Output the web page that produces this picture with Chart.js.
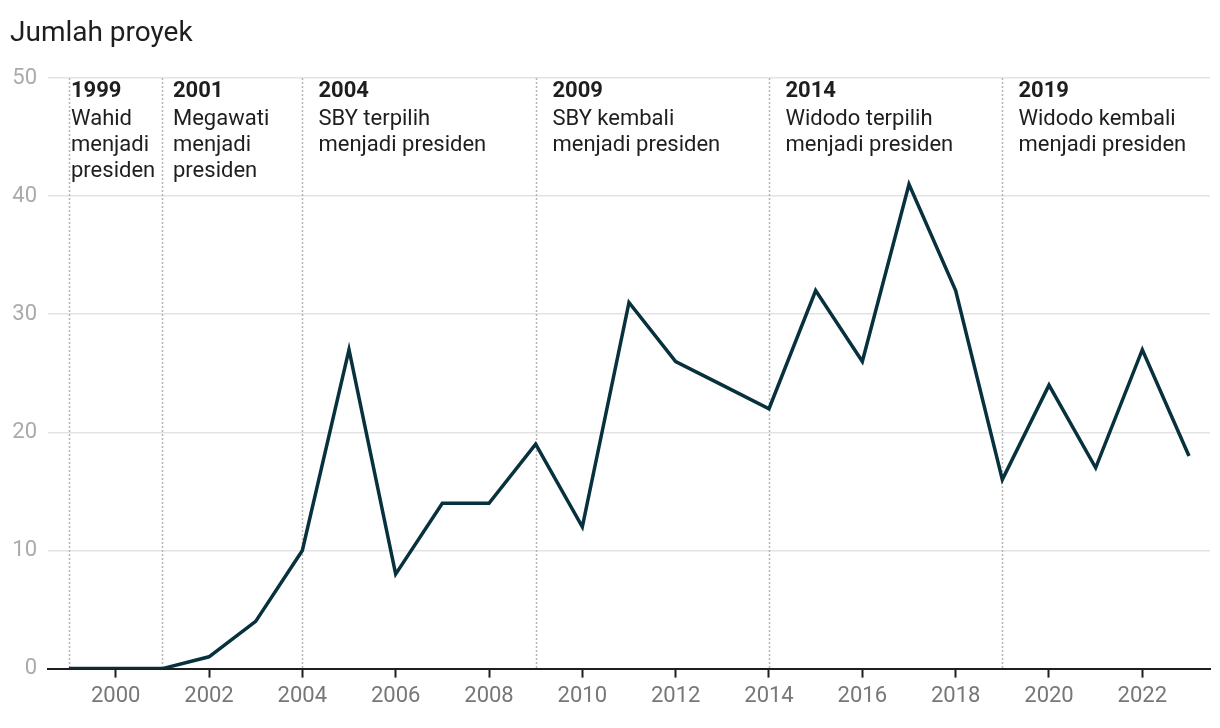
<!DOCTYPE html>
<html>
<head>
<meta charset="utf-8">
<script src="https://cdn.jsdelivr.net/npm/chart.js@4.4.1/dist/chart.umd.min.js"></script>
<style>
  html, body { margin: 0; padding: 0; background: #fff; }
  #wrap { width: 1220px; height: 728px; position: relative; }
</style>
</head>
<body>
<div id="wrap"><canvas id="myChart"></canvas></div>
<script>
// data
var years = [1999, 2000, 2001, 2002, 2003, 2004, 2005, 2006, 2007, 2008, 2009, 2010, 2011,
             2012, 2013, 2014, 2015, 2016, 2017, 2018, 2019, 2020, 2021, 2022, 2023];
var projects = [0, 0, 0, 1, 4, 10, 27, 8, 14, 14, 19, 12, 31,
                26, 24, 22, 32, 26, 41, 32, 16, 24, 17, 27, 18];
var eventYears = [1999, 2001, 2004, 2009, 2014, 2019];
var eventTexts = [
    ['Wahid', 'menjadi', 'presiden'],
    ['Megawati', 'menjadi', 'presiden'],
    ['SBY terpilih', 'menjadi presiden'],
    ['SBY kembali', 'menjadi presiden'],
    ['Widodo terpilih', 'menjadi presiden'],
    ['Widodo kembali', 'menjadi presiden']
];
var yTicks = [0, 10, 20, 30, 40, 50];

var points = years.map(function (y, i) { return { x: y, y: projects[i] }; });

// dotted lines + labels for each presidency change
var eventsPlugin = {
    id: 'events',
    beforeDatasetsDraw: function (chart) {
        var ctx = chart.ctx;
        var xs = chart.scales.x, ys = chart.scales.y;
        var top = ys.getPixelForValue(50), bottom = ys.getPixelForValue(0);
        // first two labels sit tight against their lines (little room)
        var dx = [1.5, 10.5, 16, 16, 16, 16];
        ctx.save();
        eventYears.forEach(function (yr, i) {
            var px = Math.round(xs.getPixelForValue(yr)) + 0.5;
            ctx.beginPath();
            ctx.setLineDash([2, 2]);
            ctx.strokeStyle = '#b5b5b5';
            ctx.lineWidth = 1.5;
            ctx.moveTo(px, top);
            ctx.lineTo(px, bottom);
            ctx.stroke();
            ctx.setLineDash([]);
            ctx.fillStyle = '#1e1e1e';
            ctx.textAlign = 'left';
            ctx.textBaseline = 'alphabetic';
            ctx.font = 'bold 22px Roboto';
            ctx.fillText(String(yr), px + dx[i], top + 19);
            ctx.font = '22px Roboto';
            eventTexts[i].forEach(function (line, j) {
                ctx.fillText(line, px + dx[i], top + 47 + j * 26);
            });
        });
        ctx.restore();
    }
};

var ctx = document.getElementById('myChart').getContext('2d');
var myChart = new Chart(ctx, {
    type: 'line',
    data: {
        datasets: [{
            data: points,
            borderColor: '#07323d',
            borderWidth: 3.5,
            pointRadius: 0,
            tension: 0,
            fill: false
        }]
    },
    options: {
        responsive: true,
        maintainAspectRatio: false,
        animation: false,
        layout: { padding: { left: 10, right: 10, top: 8, bottom: 12 } },
        plugins: {
            legend: { display: false },
            tooltip: { enabled: false },
            title: {
                display: true,
                text: 'Jumlah proyek',
                align: 'start',
                color: '#1e1e1e',
                font: { family: 'Roboto', size: 28, weight: 'normal' },
                padding: { top: 9, bottom: 27.4 }
            }
        },
        scales: {
            x: {
                type: 'linear',
                min: 1998.55,
                max: 2023.45,
                afterBuildTicks: function (axis) {
                    axis.ticks = years.filter(function (y) { return y % 2 === 0; })
                        .map(function (y) { return { value: y }; });
                },
                ticks: {
                    color: '#777',
                    font: { family: 'Roboto', size: 22 },
                    padding: 6,
                    maxRotation: 0,
                    callback: function (v) { return String(v); }
                },
                grid: {
                    display: true,
                    drawOnChartArea: false,
                    drawTicks: true,
                    tickLength: 9,
                    tickWidth: 2,
                    tickColor: '#1e1e1e'
                },
                border: { display: true, color: '#1e1e1e', width: 2 }
            },
            y: {
                min: 0,
                max: 50,
                afterBuildTicks: function (axis) {
                    axis.ticks = yTicks.map(function (v) { return { value: v }; });
                },
                afterFit: function (axis) { axis.width = 38; },
                ticks: {
                    color: '#aaa',
                    font: { family: 'Roboto', size: 22 },
                    padding: 11
                },
                grid: {
                    color: '#e3e3e3',
                    lineWidth: 1.5,
                    drawTicks: false
                },
                border: { display: false }
            }
        }
    },
    plugins: [eventsPlugin]
});
</script>
</body>
</html>
